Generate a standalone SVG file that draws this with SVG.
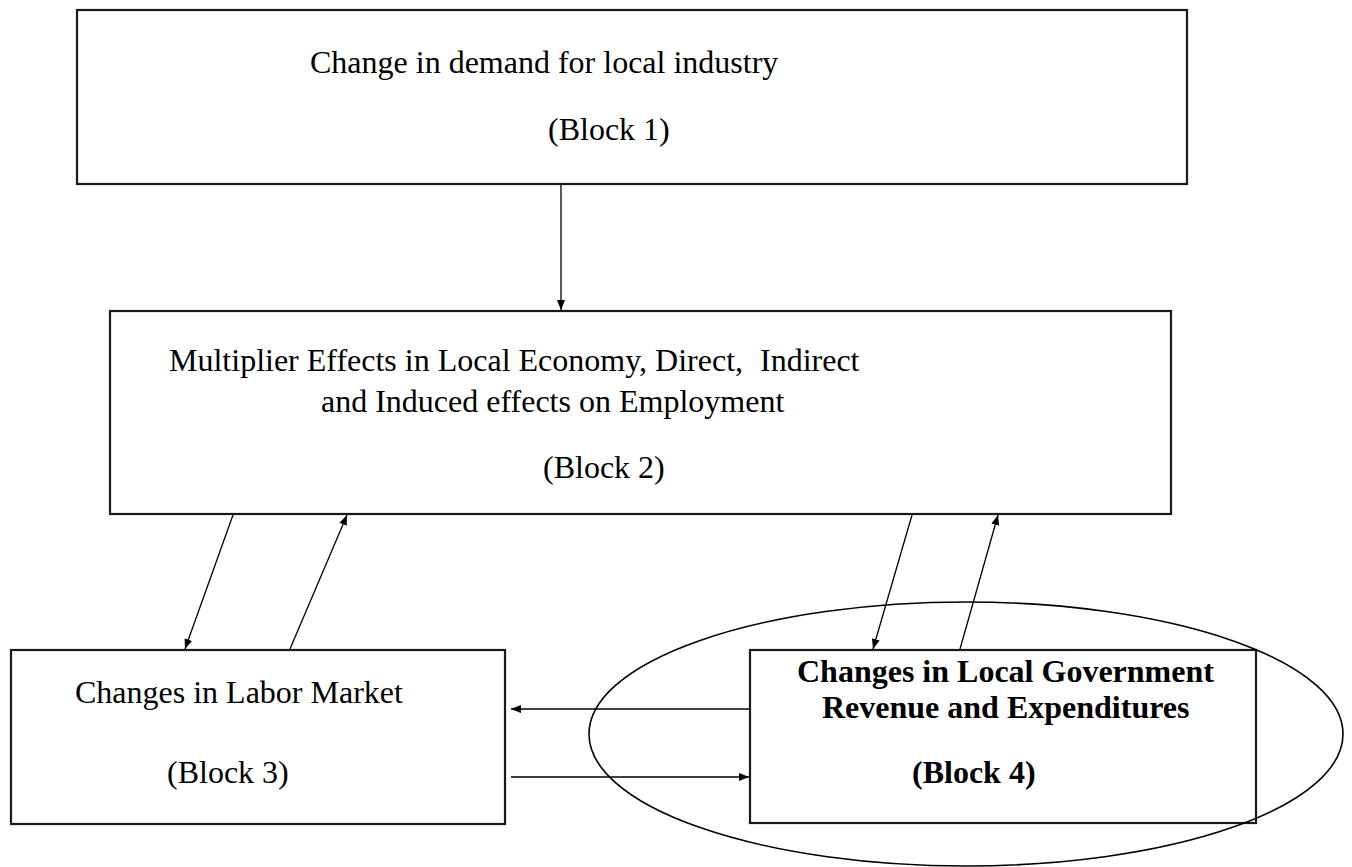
<svg xmlns="http://www.w3.org/2000/svg" width="1352" height="867" viewBox="0 0 1352 867">
  <style>
    .box { fill: #ffffff; stroke: #1a1a1a; stroke-width: 2.2; }
    .lbl { font-family: "Liberation Serif", "Times New Roman", serif; font-size: 32px; fill: #000000; }
    .bold { font-weight: bold; }
    .link { fill: none; stroke: #000000; stroke-width: 1.3; marker-end: url(#head); }
    .ring { fill: none; stroke: #000000; stroke-width: 1.6; }
  </style>
  <defs>
    <marker id="head" viewBox="0 0 10 8" refX="10" refY="4" markerWidth="10" markerHeight="8" markerUnits="userSpaceOnUse" orient="auto">
      <path d="M0,0 L10,4 L0,8 z" fill="#000000"/>
    </marker>
  </defs>

  <rect width="1352" height="867" fill="#ffffff"/>

  <!-- Block 1: demand change -->
  <g id="block1">
    <rect class="box" x="77" y="10" width="1110" height="174"/>
    <text class="lbl" x="310" y="73">Change in demand for local industry</text>
    <text class="lbl" x="548" y="140">(Block 1)</text>
  </g>

  <!-- Block 2: multiplier effects -->
  <g id="block2">
    <rect class="box" x="110" y="311" width="1061" height="203"/>
    <text class="lbl" x="169" y="371">Multiplier Effects in Local Economy, Direct, <tspan x="760">Indirect</tspan></text>
    <text class="lbl" x="321" y="412">and Induced effects on Employment</text>
    <text class="lbl" x="543" y="478">(Block 2)</text>
  </g>

  <!-- Block 3: labor market -->
  <g id="block3">
    <rect class="box" x="11" y="650" width="494" height="174"/>
    <text class="lbl" x="75" y="703">Changes in Labor Market</text>
    <text class="lbl" x="167" y="783">(Block 3)</text>
  </g>

  <!-- Block 4: local government, circled -->
  <g id="block4">
    <rect class="box" x="750" y="650" width="506" height="173"/>
    <text class="lbl bold" x="797" y="682">Changes in Local Government</text>
    <text class="lbl bold" x="822" y="718">Revenue and Expenditures</text>
    <text class="lbl bold" x="912" y="783">(Block 4)</text>
    <ellipse class="ring" cx="966" cy="734" rx="377" ry="132"/>
  </g>

  <!-- Connectors -->
  <g id="connectors">
    <line class="link" x1="561" y1="184" x2="561" y2="310"/>
    <line class="link" x1="233" y1="515" x2="185" y2="649"/>
    <line class="link" x1="290" y1="649" x2="347" y2="515"/>
    <line class="link" x1="912" y1="515" x2="873" y2="649"/>
    <line class="link" x1="960" y1="649" x2="998" y2="515"/>
    <line class="link" x1="750" y1="709" x2="511" y2="709"/>
    <line class="link" x1="511" y1="777" x2="749" y2="777"/>
  </g>
</svg>
